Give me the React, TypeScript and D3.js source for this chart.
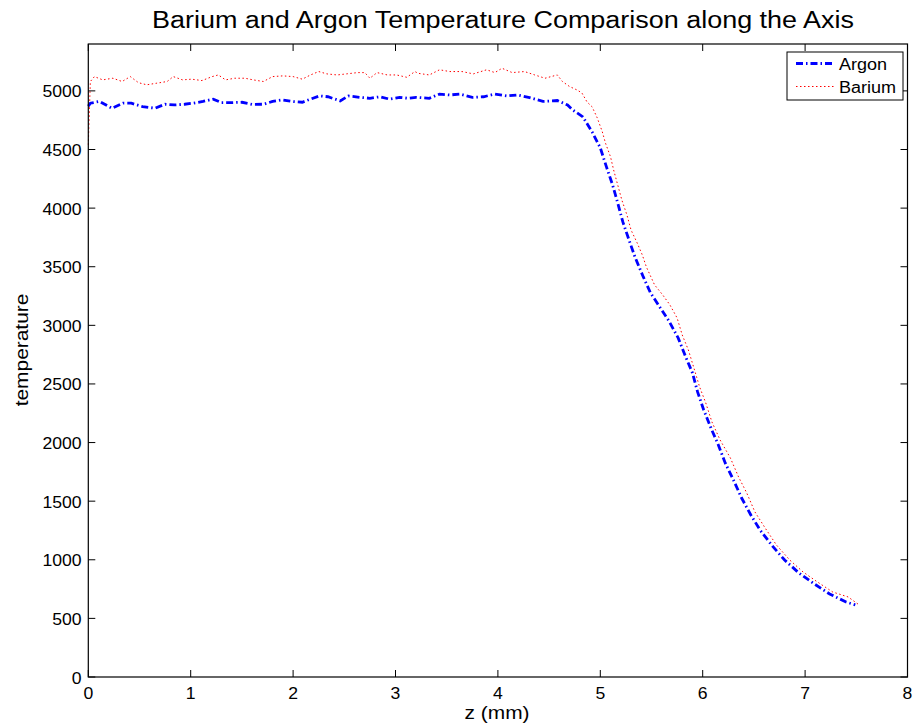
import React from "react";
import * as d3 from "d3";

const title = "Barium and Argon Temperature Comparison along the Axis";
const xLabel = "z (mm)";
const yLabel = "temperature";
const legendLabels = ["Argon", "Barium"];
const xTicks = [0, 1, 2, 3, 4, 5, 6, 7, 8];
const yTicks = [0, 500, 1000, 1500, 2000, 2500, 3000, 3500, 4000, 4500, 5000];

const zArgon = [0, 0.02, 0.11, 0.23, 0.34, 0.42, 0.53, 0.65, 0.75, 0.84, 0.94, 1.02, 1.12, 1.22, 1.3, 1.4, 1.5, 1.6, 1.71, 1.8, 1.89, 1.99, 2.09, 2.17, 2.26, 2.34, 2.46, 2.54, 2.65, 2.75, 2.85, 2.94, 3.04, 3.12, 3.2, 3.33, 3.43, 3.53, 3.63, 3.75, 3.86, 3.97, 4.09, 4.19, 4.31, 4.44, 4.58, 4.68, 4.73, 4.83, 4.92, 5.0, 5.06, 5.12, 5.17, 5.22, 5.28, 5.34, 5.42, 5.49, 5.58, 5.67, 5.76, 5.83, 5.9, 5.95, 6.01, 6.08, 6.15, 6.22, 6.3, 6.38, 6.47, 6.56, 6.68, 6.8, 6.94, 7.09, 7.24, 7.4, 7.49];
const tArgon = [4870, 4895, 4910, 4852, 4895, 4895, 4866, 4852, 4886, 4880, 4886, 4895, 4910, 4930, 4900, 4900, 4903, 4885, 4886, 4910, 4923, 4910, 4903, 4930, 4957, 4950, 4915, 4957, 4945, 4937, 4950, 4930, 4945, 4937, 4945, 4937, 4973, 4965, 4973, 4945, 4950, 4973, 4957, 4965, 4943, 4910, 4918, 4880, 4838, 4778, 4650, 4514, 4352, 4198, 4044, 3882, 3729, 3580, 3413, 3277, 3157, 3037, 2893, 2739, 2594, 2432, 2278, 2125, 1985, 1826, 1681, 1527, 1382, 1254, 1118, 998, 887, 794, 708, 640, 615];

const zBarium = [0, 0.02, 0.06, 0.14, 0.24, 0.33, 0.41, 0.49, 0.57, 0.67, 0.77, 0.83, 0.92, 1.01, 1.11, 1.21, 1.27, 1.34, 1.43, 1.53, 1.61, 1.71, 1.8, 1.9, 2.0, 2.09, 2.17, 2.25, 2.33, 2.43, 2.52, 2.63, 2.7, 2.75, 2.82, 2.92, 3.01, 3.11, 3.19, 3.22, 3.33, 3.43, 3.53, 3.65, 3.76, 3.89, 3.97, 4.04, 4.14, 4.26, 4.36, 4.46, 4.58, 4.63, 4.7, 4.77, 4.82, 4.87, 4.92, 4.97, 5.02, 5.05, 5.1, 5.13, 5.17, 5.21, 5.26, 5.3, 5.36, 5.41, 5.45, 5.53, 5.61, 5.68, 5.75, 5.8, 5.86, 5.92, 5.97, 6.03, 6.09, 6.17, 6.27, 6.35, 6.43, 6.51, 6.61, 6.72, 6.85, 6.98, 7.12, 7.27, 7.42, 7.52];
const tBarium = [4540, 5080, 5122, 5094, 5108, 5080, 5122, 5070, 5052, 5066, 5080, 5122, 5094, 5100, 5088, 5122, 5136, 5094, 5108, 5108, 5094, 5080, 5122, 5128, 5122, 5100, 5136, 5165, 5145, 5136, 5145, 5156, 5156, 5108, 5156, 5136, 5136, 5116, 5165, 5150, 5136, 5180, 5165, 5165, 5145, 5180, 5156, 5193, 5156, 5165, 5136, 5108, 5136, 5080, 5037, 5009, 4983, 4906, 4864, 4770, 4650, 4556, 4437, 4326, 4198, 4070, 3942, 3814, 3703, 3601, 3498, 3345, 3259, 3174, 3063, 2918, 2790, 2619, 2474, 2338, 2176, 2022, 1869, 1707, 1570, 1408, 1271, 1126, 998, 896, 811, 725, 683, 620];

const W = 917;
const H = 728;
const left = 88.3;
const right = 907.5;
const top = 44;
const bottom = 677;
const font = "'Liberation Sans', Arial, Helvetica, sans-serif";
const SX = 1.1;

function T(props: {
  x: number;
  y: number;
  size: number;
  anchor?: "start" | "middle" | "end";
  rotate?: number;
  children: React.ReactNode;
}) {
  const { x, y, size, anchor = "start", rotate = 0, children } = props;
  return (
    <text
      transform={`translate(${x},${y}) rotate(${rotate}) scale(${SX},1)`}
      fontSize={size}
      textAnchor={anchor}
      fill="#000"
    >
      {children}
    </text>
  );
}

export default function App() {
  const x = d3.scaleLinear().domain([0, 8]).range([left, right]);
  const y = d3.scaleLinear().domain([0, 5400]).range([bottom, top]);
  const line = d3
    .line<[number, number]>()
    .x((d) => x(d[0]))
    .y((d) => y(d[1]));
  const argonPts: [number, number][] = zArgon.map((z, i) => [z, tArgon[i]]);
  const bariumPts: [number, number][] = zBarium.map((z, i) => [z, tBarium[i]]);
  const tickLen = 7;

  return (
    <svg
      width={W}
      height={H}
      style={{ position: "absolute", left: 0, top: 0, background: "#fff" }}
      fontFamily={font}
    >
      <rect x={0} y={0} width={W} height={H} fill="#fff" />
      <T x={503} y={28} size={24.5} anchor="middle">
        {title}
      </T>
      {/* data */}
      <path
        d={line(bariumPts) || ""}
        fill="none"
        stroke="#ff0000"
        strokeWidth={1}
        strokeDasharray="1.5,2.5"
      />
      <path
        d={line(argonPts) || ""}
        fill="none"
        stroke="#0000ff"
        strokeWidth={2.8}
        strokeDasharray="7,3,1.5,3"
      />
      {/* axes box */}
      <rect x={left} y={top} width={right - left} height={bottom - top} fill="none" stroke="#000" strokeWidth={1.2} />
      {xTicks.map((t) => (
        <g key={"x" + t}>
          <line x1={x(t)} x2={x(t)} y1={bottom} y2={bottom - tickLen} stroke="#000" />
          <line x1={x(t)} x2={x(t)} y1={top} y2={top + tickLen} stroke="#000" />
          <T x={x(t)} y={699} size={16} anchor="middle">
            {t}
          </T>
        </g>
      ))}
      {yTicks.map((t) => (
        <g key={"y" + t}>
          <line x1={left} x2={left + tickLen} y1={y(t)} y2={y(t)} stroke="#000" />
          <line x1={right} x2={right - tickLen} y1={y(t)} y2={y(t)} stroke="#000" />
          <T x={81.5} y={y(t) + 6.5} size={16} anchor="end">
            {t}
          </T>
        </g>
      ))}
      <T x={497} y={719} size={19} anchor="middle">
        {xLabel}
      </T>
      <T x={28} y={350} size={19} anchor="middle" rotate={-90}>
        {yLabel}
      </T>
      {/* legend */}
      <rect x={787} y={52} width={116} height={48} fill="#fff" stroke="#000" strokeWidth={1} />
      <line x1={796} x2={835} y1={63.5} y2={63.5} stroke="#0000ff" strokeWidth={2.8} strokeDasharray="7,3,1.5,3" />
      <line x1={796} x2={835} y1={86.5} y2={86.5} stroke="#ff0000" strokeWidth={1} strokeDasharray="1.5,2.5" />
      <T x={839} y={69.5} size={16.4}>{legendLabels[0]}</T>
      <T x={839} y={93} size={16.4}>{legendLabels[1]}</T>
    </svg>
  );
}
